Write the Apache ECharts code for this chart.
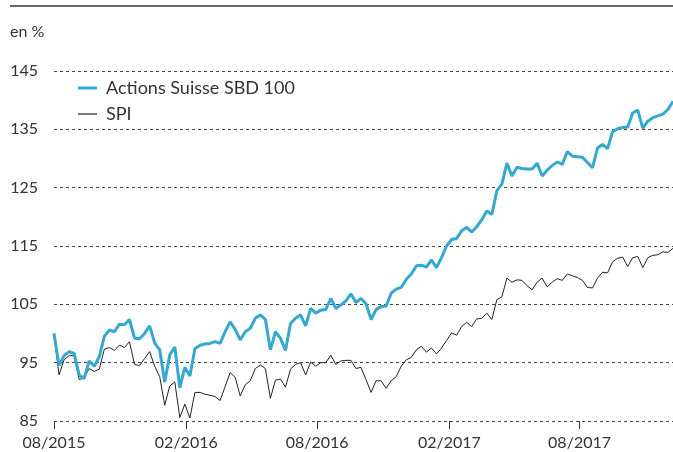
<!DOCTYPE html>
<html>
<head>
<meta charset="utf-8">
<script src="https://cdn.jsdelivr.net/npm/echarts@6/dist/echarts.min.js"></script>
<style>
html,body{margin:0;padding:0;background:#fff;}
#chart{width:673px;height:452px;}
</style>
</head>
<body>
<div id="chart"></div>
<script>
// ---- data ----
const seriesNames = ['Actions Suisse SBD 100', 'SPI'];
const startDate = [2015, 7, 1];   // 1 Aug 2015 (month 0-based), weekly observations
const stepDays = 7;
const sbd100 = [
  100.0, 94.5, 96.2, 96.9, 96.6, 92.9, 92.3, 95.3, 94.4, 96.0,
  99.5, 100.6, 100.3, 101.6, 101.5, 102.4, 99.2, 99.1, 100.0, 101.3,
  98.4, 97.2, 91.7, 96.3, 97.7, 90.7, 94.2, 92.7, 97.4, 98.0,
  98.2, 98.3, 98.6, 98.3, 100.3, 102.0, 100.7, 98.9, 100.3, 100.9,
  102.6, 103.2, 102.4, 97.2, 100.3, 99.2, 97.1, 101.7, 102.6, 103.2,
  101.3, 104.3, 103.5, 104.0, 104.1, 106.0, 104.3, 104.9, 105.6, 106.8,
  105.3, 106.0, 105.1, 102.4, 104.1, 104.6, 104.7, 106.9, 107.6, 107.9,
  109.3, 110.2, 111.6, 111.7, 111.4, 112.6, 111.3, 113.0, 115.0, 116.1,
  116.3, 117.6, 118.2, 117.4, 118.3, 119.5, 121.0, 120.4, 124.5, 125.6,
  129.2, 127.0, 128.5, 128.3, 128.2, 128.2, 129.2, 127.0, 128.0, 128.8,
  129.4, 129.0, 131.2, 130.4, 130.3, 130.2, 129.3, 128.4, 131.8, 132.4,
  131.7, 134.6, 135.1, 135.3, 135.4, 137.8, 138.3, 135.2, 136.4, 137.0,
  137.3, 137.6, 138.4, 139.8
];
const spi = [
  100.0, 92.9, 95.5, 96.2, 96.2, 92.1, 92.4, 94.0, 93.5, 93.9,
  97.3, 97.6, 97.1, 98.0, 97.6, 98.6, 94.7, 94.5, 95.7, 96.9,
  94.4, 92.6, 87.7, 91.0, 91.7, 85.6, 87.9, 85.5, 89.9, 89.9,
  89.6, 89.4, 89.2, 88.5, 90.9, 93.3, 92.5, 89.3, 91.2, 91.9,
  94.0, 94.6, 94.0, 88.9, 92.0, 92.2, 90.8, 93.9, 94.7, 95.0,
  92.9, 95.1, 94.4, 95.0, 95.0, 96.3, 94.7, 95.3, 95.4, 95.4,
  94.0, 94.2, 92.1, 89.9, 91.9, 91.9, 90.6, 91.9, 92.6, 94.4,
  95.5, 95.9, 97.2, 97.8, 96.8, 97.5, 96.5, 97.5, 98.8, 100.1,
  99.7, 101.2, 101.9, 101.2, 102.5, 102.6, 103.5, 102.4, 105.8, 106.3,
  109.5, 108.8, 109.2, 109.1, 108.2, 107.5, 108.8, 109.5, 108.0, 108.8,
  109.4, 109.1, 110.2, 109.9, 109.6, 109.1, 107.9, 107.8, 109.5, 110.5,
  110.4, 112.3, 112.9, 113.1, 111.5, 113.0, 113.2, 111.3, 113.0, 113.4,
  113.5, 114.0, 113.9, 114.6
];
const tickDates = [[2015, 7, 1], [2016, 1, 1], [2016, 7, 1], [2017, 1, 1], [2017, 7, 1]];
const tickLabels = ['08/2015', '02/2016', '08/2016', '02/2017', '08/2017'];
const yTicks = [85, 95, 105, 115, 125, 135, 145];

// ---- build ----
const t0 = new Date(startDate[0], startDate[1], startDate[2]);
const dates = sbd100.map((_, i) => {
  const d = new Date(t0.getTime());
  d.setDate(d.getDate() + i * stepDays);
  return d.getTime();
});
const tickTimes = tickDates.map(a => new Date(a[0], a[1], a[2]).getTime());

const FONT = 'Lato';
const BLUE = '#35a8d0';
const DARK = '#222';
const chart = echarts.init(document.getElementById('chart'), null, {renderer: 'canvas'});
chart.setOption({
  animation: false,
  backgroundColor: '#fff',
  textStyle: {fontFamily: FONT},
  title: {
    text: 'en %', left: 10, top: 24, padding: 0,
    textStyle: {fontFamily: FONT, fontSize: 16, fontWeight: 'normal', color: '#333'}
  },
  graphic: [{
    type: 'line', shape: {x1: 10, y1: 6, x2: 673, y2: 6},
    style: {stroke: '#666', lineWidth: 2}, silent: true
  }],
  legend: {
    orient: 'vertical', left: 78, top: 79, padding: 0,
    itemWidth: 19, itemHeight: 14, itemGap: 8,
    textStyle: {fontFamily: FONT, fontSize: 18, color: '#333', padding: [0, 0, 0, 4]},
    data: [
      {name: seriesNames[0], icon: 'path://M0 0 L19 0 L19 3 L0 3 Z', itemStyle: {color: BLUE}},
      {name: seriesNames[1], icon: 'path://M0 0 L19 0 L19 1.2 L0 1.2 Z', itemStyle: {color: DARK}}
    ]
  },
  grid: {left: 54, right: 0, top: 71, bottom: 31, containLabel: false},
  xAxis: {
    type: 'value',
    min: dates[0], max: dates[dates.length - 1],
    axisLine: {show: false},
    axisTick: {show: true, length: 8, customValues: tickTimes, lineStyle: {color: '#333', width: 1}},
    axisLabel: {
      customValues: tickTimes, margin: 14,
      fontFamily: FONT, fontSize: 16, color: '#333',
      formatter: function (v) {
        const idx = tickTimes.indexOf(v);
        return idx >= 0 ? tickLabels[idx] : '';
      }
    },
    splitLine: {show: false}
  },
  yAxis: {
    type: 'value', min: yTicks[0], max: yTicks[yTicks.length - 1], interval: 10,
    axisLine: {show: false}, axisTick: {show: false},
    axisLabel: {margin: 16, fontFamily: FONT, fontSize: 16, color: '#333'},
    splitLine: {show: true, lineStyle: {color: '#444', width: 1, type: [3, 3]}}
  },
  series: [
    {
      name: seriesNames[0], type: 'line', symbol: 'none',
      data: dates.map((d, i) => [d, sbd100[i]]),
      lineStyle: {color: BLUE, width: 3}, itemStyle: {color: BLUE}, z: 3
    },
    {
      name: seriesNames[1], type: 'line', symbol: 'none',
      data: dates.map((d, i) => [d, spi[i]]),
      lineStyle: {color: DARK, width: 1}, itemStyle: {color: DARK}, z: 2
    }
  ]
});
</script>
</body>
</html>
